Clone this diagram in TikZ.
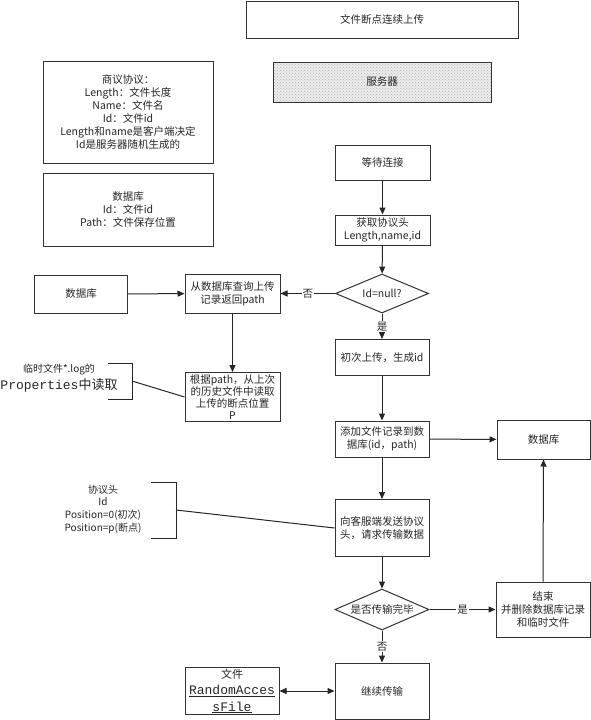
\documentclass[tikz,border=0pt]{standalone}
\usepackage{fontspec}
\setmainfont{Noto Sans CJK SC}
\newfontfamily\monofnt{Liberation Mono}
\usetikzlibrary{shapes.geometric}
\usetikzlibrary{arrows.meta}
\usetikzlibrary{patterns}
\tikzset{
	flowbox/.style={draw=black!80, line width=1pt, align=center, inner sep=1pt, text=black!85, font=\fontsize{10.5}{13}\selectfont},
	decision/.style={diamond, draw=black!80, line width=1pt, align=center, inner sep=0pt, text=black!85, font=\fontsize{10.5}{13}\selectfont},
	flowline/.style={line width=1pt, draw=black!85, -{Triangle[length=7pt,width=6pt]}},
	plainline/.style={line width=1pt, draw=black!85},
	yesno/.style={fill=white, inner sep=1pt, text=black!85, font=\fontsize{10.5}{13}\selectfont},
	notetext/.style={align=center, inner sep=0pt, text=black!85, font=\fontsize{10}{12.7}\selectfont},
}
\newcommand{\blk}[6] % name, x, y (centre in px), width, height, text
{
	\node[flowbox, minimum width=#4, minimum height=#5] (#1) at (#2,#3) {#6};
}
\newcommand{\notebracket}[5] % name, left x, right x, top y, bottom y
{
	\draw[plainline] (#2,#4) -- (#3,#4) -- (#3,#5) -- (#2,#5);
	\coordinate (#1) at (#3,{(#4+#5)/2});
}
\begin{document}
\begin{tikzpicture}[x=1pt, y=-1pt]
	% 591px x 720px, 1px = 1pt
	\useasboundingbox (0,0) rectangle (591,720);
	
	% heading and legend
	\blk{title}{382}{19.5}{272}{37}{文件断点连续上传};
	\node[flowbox, minimum width=218, minimum height=40, preaction={fill=gray!15}, pattern=crosshatch dots, pattern color=gray!60] (server) at (382,82) {服务器};
	\blk{proto}{128}{112}{170}{102}{商议协议：\\Length：文件长度\\Name：文件名\\Id：文件id\\Length和name是客户端决定\\Id是服务器随机生成的};
	\blk{dbinfo}{128}{209.5}{170}{73}{数据库\\Id：文件id\\Path：文件保存位置};
	
	% main column
	\blk{wait}{382.5}{162.5}{95}{35}{等待连接};
	\blk{gethead}{382.5}{230}{95}{30}{获取协议头\\Length,name,id};
	\node[decision, minimum width=93, minimum height=39, aspect=2.4] (isnull) at (382,293.5) {Id=null?};
	\blk{first}{382}{357.5}{94}{36}{初次上传，生成id};
	\blk{addrec}{382}{439}{94}{36}{添加文件记录到数\\据库(id，path)};
	\blk{send}{382}{528}{94}{57}{向客服端发送协议\\头，请求传输数据};
	\node[decision, minimum width=94, minimum height=41, aspect=2.3] (isdone) at (382,609.5) {是否传输完毕};
	\blk{cont}{382}{691}{94}{56}{继续传输};
	
	% left column
	\blk{dbleft}{81}{294}{93}{38}{数据库};
	\blk{query}{232.5}{293.5}{95}{39}{从数据库查询上传\\记录返回path};
	\node[flowbox, minimum width=95, minimum height=49, font=\fontsize{10.5}{12}\selectfont] (readpos) at (232.5,397) {根据path，从上次\\的历史文件中读取\\上传的断点位置\\P};
	\node[flowbox, minimum width=94, minimum height=46, font=\fontsize{11}{16.5}\selectfont] (raf) at (232,691) {文件\\{\monofnt\fontsize{13}{16.5}\selectfont\underline{RandomAcces}}\\{\monofnt\fontsize{13}{16.5}\selectfont\underline{sFile}}};
	
	% right column
	\blk{dbright}{543.5}{439.5}{93}{39}{数据库};
	\blk{finish}{543}{609.5}{94}{55}{结束\\并删除数据库记录\\和临时文件};
	
	% notes with brackets
	\node[notetext] (tmpnote) at (59,378) {临时文件*.log的\\[2pt]{\fontsize{13}{15}\selectfont{\monofnt Properties}中读取}};
	\notebracket{tmpbr}{108}{132}{363}{399};
	\node[notetext] (headnote) at (103,509) {协议头\\Id\\Position=0(初次)\\Position=p(断点)};
	\notebracket{headbr}{151}{176}{482}{538};
	
	% connectors
	\draw[flowline] (wait) -- (gethead);
	\draw[flowline] (gethead) -- (isnull);
	\draw[flowline] (isnull.west) -- node[yesno] {否} (query.east);
	\draw[flowline] (dbleft) -- (query);
	\draw[flowline] (query) -- (readpos);
	\draw[flowline] (isnull.south) -- node[yesno] {是} (first.north);
	\draw[flowline] (first) -- (addrec);
	\draw[flowline] (addrec) -- (dbright);
	\draw[flowline] (addrec) -- (send);
	\draw[flowline] (send) -- (isdone);
	\draw[flowline] (isdone.east) -- node[yesno] {是} (finish.west);
	\draw[flowline] (isdone.south) -- node[yesno] {否} (cont.north);
	\draw[flowline] (finish.north) -- (dbright.south);
	\draw[flowline, {Triangle[length=7pt,width=6pt]}-{Triangle[length=7pt,width=6pt]}] (raf) -- (cont);
	\draw[plainline] (tmpbr) -- (readpos.west);
	\draw[plainline] (headbr) -- (send.west);
\end{tikzpicture}
\end{document}
